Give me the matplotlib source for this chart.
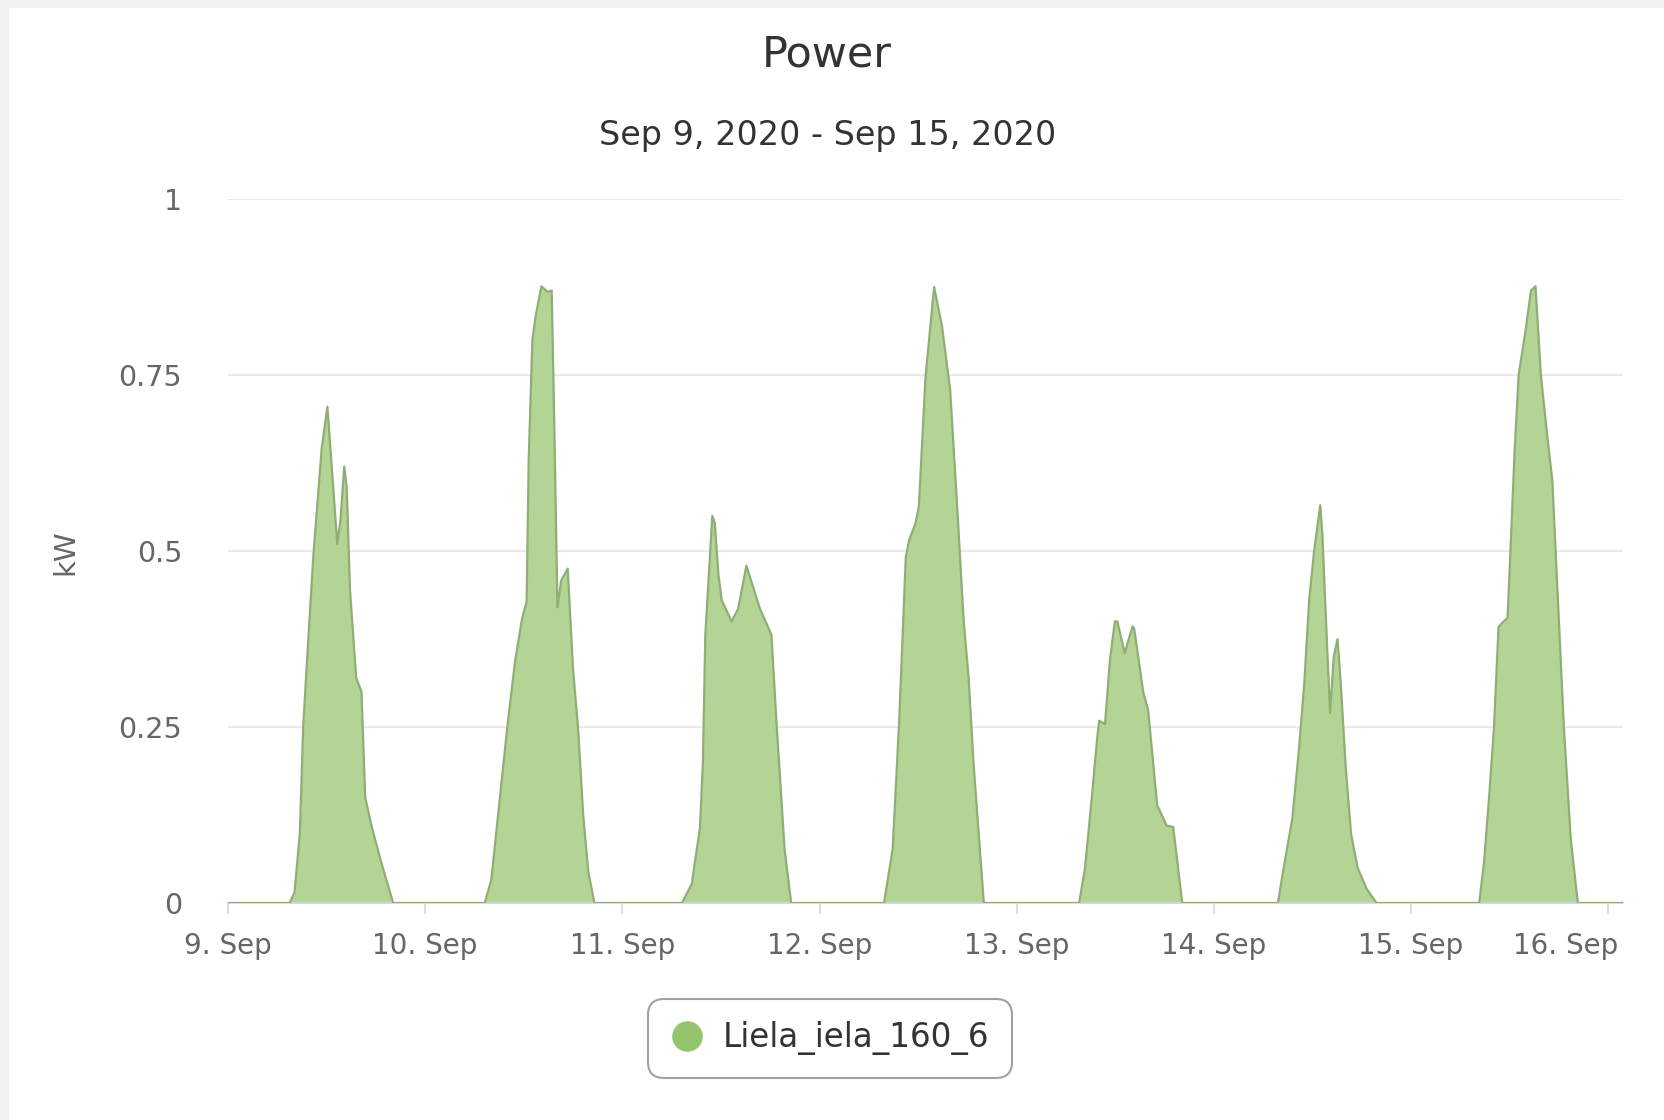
import numpy as np
import matplotlib
matplotlib.use("Agg")
import matplotlib.pyplot as plt
import matplotlib.dates as mdates
import matplotlib.transforms as mtransforms
from matplotlib.lines import Line2D
from matplotlib.patches import Rectangle
from datetime import datetime, timedelta

# one list of hours + one list of kW per day
sep09_h = [7.5, 8.1, 8.75, 9.15, 9.75, 10.4, 11.4, 12.1, 12.8, 13.3, 13.7, 14.15, 14.45, 14.85, 15.6, 16.25, 16.7, 17.5, 18.6, 20.1]
sep09_kw = [0, 0.015, 0.10, 0.25, 0.37, 0.495, 0.645, 0.705, 0.59, 0.51, 0.545, 0.62, 0.59, 0.445, 0.32, 0.30, 0.15, 0.108, 0.06, 0]

sep10_h = [7.25, 8.05, 9.1, 10.0, 10.95, 11.8, 12.35, 12.6, 13.05, 13.45, 14.15, 14.9, 15.4, 15.7, 16.1, 16.55, 17.35, 18.0, 18.6, 19.25, 19.85, 20.6]
sep10_kw = [0, 0.033, 0.15, 0.25, 0.344, 0.404, 0.428, 0.63, 0.80, 0.834, 0.876, 0.868, 0.87, 0.69, 0.42, 0.458, 0.475, 0.332, 0.25, 0.123, 0.045, 0]

sep11_h = [7.25, 8.45, 9.45, 9.8, 10.1, 10.95, 11.25, 11.7, 12.1, 13.3, 14.1, 15.1, 16.75, 18.15, 18.75, 19.75, 20.55]
sep11_kw = [0, 0.027, 0.107, 0.198, 0.381, 0.55, 0.54, 0.466, 0.43, 0.40, 0.418, 0.479, 0.418, 0.381, 0.259, 0.076, 0]

sep12_h = [7.85, 8.9, 9.7, 10.5, 10.9, 11.7, 12.1, 12.9, 13.95, 14.9, 15.9, 16.75, 17.55, 18.15, 18.75, 20.0]
sep12_kw = [0, 0.076, 0.259, 0.491, 0.515, 0.54, 0.564, 0.747, 0.875, 0.82, 0.729, 0.564, 0.40, 0.32, 0.198, 0]

sep13_h = [7.6, 8.3, 9.1, 9.8, 10.05, 10.75, 11.35, 11.95, 12.25, 13.15, 14.1, 14.3, 15.4, 16.0, 17.1, 18.25, 19.05, 20.15]
sep13_kw = [0, 0.048, 0.144, 0.235, 0.259, 0.254, 0.345, 0.40, 0.40, 0.355, 0.393, 0.39, 0.30, 0.274, 0.139, 0.11, 0.108, 0]

sep14_h = [7.8, 8.5, 9.55, 10.35, 11.0, 11.6, 12.2, 12.95, 13.2, 13.8, 14.15, 14.6, 15.05, 15.45, 16.05, 16.7, 17.5, 18.6, 19.8]
sep14_kw = [0, 0.05, 0.12, 0.217, 0.311, 0.43, 0.50, 0.565, 0.525, 0.36, 0.27, 0.35, 0.375, 0.311, 0.193, 0.098, 0.05, 0.02, 0]

sep15_h = [8.3, 8.9, 9.5, 10.1, 10.65, 11.1, 11.75, 12.1, 12.6, 13.1, 13.9, 14.6, 15.15, 15.8, 16.6, 17.2, 17.6, 18.6, 19.45, 20.3]
sep15_kw = [0, 0.06, 0.15, 0.25, 0.392, 0.398, 0.405, 0.50, 0.64, 0.75, 0.81, 0.87, 0.876, 0.75, 0.661, 0.60, 0.50, 0.25, 0.09, 0]

tick_labels = ["9. Sep", "10. Sep", "11. Sep", "12. Sep", "13. Sep", "14. Sep", "15. Sep", "16. Sep"]
y_ticks = [0, 0.25, 0.5, 0.75, 1]
y_labels = ["0", "0.25", "0.5", "0.75", "1"]

start = datetime(2020, 9, 9)
last_day = 7.075  # series runs a little past 16. Sep 00:00

days = [(sep09_h, sep09_kw), (sep10_h, sep10_kw), (sep11_h, sep11_kw),
        (sep12_h, sep12_kw), (sep13_h, sep13_kw), (sep14_h, sep14_kw),
        (sep15_h, sep15_kw)]

t = [0.0]
v = [0.0]
for i, (hours, kw) in enumerate(days):
    t += [i + h / 24.0 for h in hours]
    v += kw
t.append(last_day)
v.append(0.0)
x = mdates.date2num(start) + np.array(t)
v = np.array(v)

fig = plt.figure(figsize=(16.65, 11.2), dpi=100)
fig.patch.set_facecolor("#f1f1ef")
fig.patches.append(Rectangle((9 / 1665, 0), 1, 1 - 8 / 1120, transform=fig.transFigure,
                             facecolor="white", edgecolor="none", zorder=-10))

ax = fig.add_axes([228 / 1665, 217 / 1120, 1395 / 1665, 704 / 1120])
ax.set_facecolor("white")

fill_col = "#b4d496"
line_col = "#8fae75"
ax.fill_between(x, 0, v, color=fill_col, linewidth=0, zorder=2)
ax.plot(x, v, color=line_col, linewidth=1.6, zorder=3)

ax.set_xlim(mdates.date2num(start), mdates.date2num(start) + last_day)
ax.set_ylim(0, 1)

xt = [mdates.date2num(start + timedelta(days=k)) for k in range(len(tick_labels))]
ax.set_xticks(xt)
ax.set_xticklabels(tick_labels, fontsize=20, color="#666666")
ax.tick_params(axis="x", length=8, width=1.2, color="#ccd6eb", pad=13)
# last label is pushed inside the plot, like the original chart
last = ax.get_xticklabels()[-1]
last.set_horizontalalignment("right")
last.set_transform(last.get_transform() + mtransforms.ScaledTranslation(0.1, 0, fig.dpi_scale_trans))

ax.set_yticks(y_ticks)
ax.set_yticklabels(y_labels, fontsize=20.5, color="#666666")
ax.tick_params(axis="y", length=0, pad=33)
ax.grid(axis="y", color="#e6e6e6", linewidth=1.2, zorder=0)
ax.set_axisbelow(True)

for s in ["top", "right", "left"]:
    ax.spines[s].set_visible(False)
ax.spines["bottom"].set_color("#ccd6eb")
ax.spines["bottom"].set_linewidth(1.2)

fig.text(0.4967, 0.951, "Power", ha="center", va="center", fontsize=31, color="#333333")
fig.text(0.497, 0.879, "Sep 9, 2020 - Sep 15, 2020", ha="center", va="center",
         fontsize=24, color="#333333")
fig.text(0.0395, 0.507, "kW", ha="center", va="center", rotation=90, fontsize=21, color="#666666")

handle = Line2D([], [], linestyle="none", marker="o", markersize=21,
                markerfacecolor="#94c56e", markeredgecolor="#94c56e")
leg = fig.legend([handle], ["Liela_iela_160_6"], loc="center", bbox_to_anchor=(0.4985, 0.0728),
                 fontsize=23.5, frameon=True, fancybox=True, handlelength=1.0,
                 handletextpad=0.6, borderpad=0.7, labelcolor="#333333")
frame = leg.get_frame()
frame.set_edgecolor("#8a8a8a")
frame.set_linewidth(1.5)
frame.set_boxstyle("round,pad=0,rounding_size=0.5")

fig.savefig("out.png", dpi=100, facecolor=fig.get_facecolor())
